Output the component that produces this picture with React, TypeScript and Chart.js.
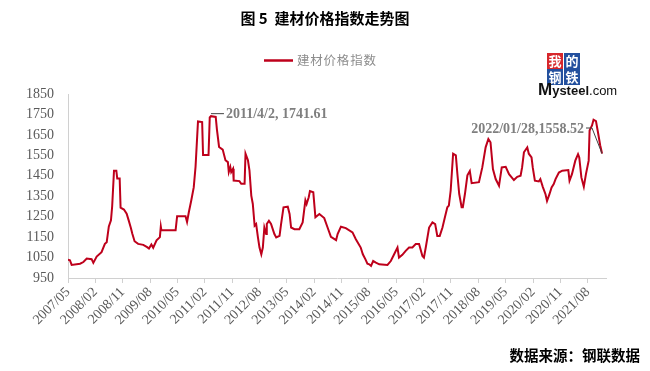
import React, { useEffect, useRef } from "react";
import { Chart, registerables } from "chart.js";

Chart.register(...registerables);

const title = "图 5  建材价格指数走势图";
const seriesName = "建材价格指数";
const sourceText = "数据来源：钢联数据";

const tickLabels = [
  "2007/05", "2008/02", "2008/11", "2009/08", "2010/05", "2011/02", "2011/11",
  "2012/08", "2013/05", "2014/02", "2014/11", "2015/08", "2016/05", "2017/02",
  "2017/11", "2018/08", "2019/05", "2020/02", "2020/11", "2021/08",
];

const yTicks = [950, 1050, 1150, 1250, 1350, 1450, 1550, 1650, 1750, 1850];

const dates = [
  "2007/05/01", "2007/05/20", "2007/06/07", "2007/08/30", "2007/10/03", "2007/11/06", "2007/12/24",
  "2008/01/11", "2008/02/14", "2008/04/02", "2008/05/05", "2008/05/23", "2008/06/14", "2008/07/05",
  "2008/07/17", "2008/08/05", "2008/08/28", "2008/09/07", "2008/10/01", "2008/10/10", "2008/11/13",
  "2008/12/10", "2008/12/30", "2009/01/21", "2009/02/06", "2009/02/28", "2009/04/03", "2009/05/24",
  "2009/07/02", "2009/07/20", "2009/08/14", "2009/09/02", "2009/10/05", "2009/11/08", "2009/11/17",
  "2009/11/23", "2010/04/13", "2010/04/28", "2010/07/21", "2010/08/06", "2010/08/24", "2010/09/18",
  "2010/10/12", "2010/10/30", "2010/11/24", "2011/01/05", "2011/01/14", "2011/03/08", "2011/03/20",
  "2011/04/02", "2011/05/19", "2011/06/01", "2011/06/22", "2011/07/28", "2011/08/25", "2011/09/19",
  "2011/09/28", "2011/10/13", "2011/10/22", "2011/11/10", "2011/11/16", "2012/01/13", "2012/02/01",
  "2012/03/04", "2012/03/13", "2012/04/07", "2012/04/22", "2012/05/10", "2012/05/25", "2012/06/13",
  "2012/06/28", "2012/07/16", "2012/08/01", "2012/08/19", "2012/09/04", "2012/09/19", "2012/10/07",
  "2012/10/13", "2012/11/04", "2012/11/25", "2012/12/28", "2013/01/16", "2013/02/19", "2013/03/04",
  "2013/03/28", "2013/05/10", "2013/05/28", "2013/06/13", "2013/07/16", "2013/09/04", "2013/10/07",
  "2013/11/04", "2013/11/16", "2013/12/07", "2013/12/19", "2014/01/22", "2014/02/13", "2014/03/22",
  "2014/05/10", "2014/06/13", "2014/07/16", "2014/09/07", "2014/09/22", "2014/10/25", "2014/12/13",
  "2015/02/19", "2015/03/22", "2015/05/10", "2015/06/01", "2015/06/28", "2015/07/16", "2015/08/04",
  "2015/08/22", "2015/09/13", "2015/10/10", "2015/11/13", "2016/02/04", "2016/03/07", "2016/04/10",
  "2016/05/13", "2016/05/28", "2016/07/01", "2016/08/04", "2016/09/07", "2016/10/10", "2016/11/13",
  "2016/12/16", "2017/01/19", "2017/02/04", "2017/02/22", "2017/03/25", "2017/04/28", "2017/05/25",
  "2017/06/16", "2017/07/10", "2017/08/07", "2017/09/01", "2017/09/25", "2017/10/10", "2017/10/28",
  "2017/11/22", "2017/12/19", "2018/01/04", "2018/01/22", "2018/02/16", "2018/02/28", "2018/03/19",
  "2018/04/13", "2018/05/07", "2018/05/25", "2018/08/07", "2018/09/10", "2018/10/13", "2018/11/10",
  "2018/12/01", "2018/12/25", "2019/01/22", "2019/02/25", "2019/03/22", "2019/05/01", "2019/06/04",
  "2019/07/22", "2019/08/25", "2019/09/28", "2019/10/13", "2019/11/01", "2019/12/04", "2019/12/19",
  "2020/01/16", "2020/01/28", "2020/02/19", "2020/03/28", "2020/04/13", "2020/05/07", "2020/06/04",
  "2020/06/19", "2020/07/13", "2020/08/04", "2020/08/25", "2020/09/13", "2020/10/16", "2020/11/19",
  "2021/01/19", "2021/02/01", "2021/02/25", "2021/03/28", "2021/04/25", "2021/05/07", "2021/05/28",
  "2021/06/22", "2021/07/13", "2021/08/10", "2021/08/19", "2021/09/13", "2021/09/28", "2021/10/22",
  "2021/11/10", "2021/12/04", "2021/12/22",
];

const values = [
  1040, 1037, 1014, 1020, 1028, 1045, 1042,
  1024, 1055, 1076, 1117, 1125, 1202, 1232,
  1301, 1475, 1475, 1437, 1437, 1294, 1285,
  1265, 1232, 1196, 1166, 1130, 1117, 1112,
  1101, 1094, 1114, 1098, 1134, 1150, 1202,
  1183, 1183, 1252, 1252, 1224, 1273, 1330,
  1393, 1495, 1716, 1713, 1552, 1552, 1735,
  1741.61, 1738, 1676, 1591, 1578, 1526, 1517,
  1468, 1493, 1468, 1484, 1427, 1424, 1411,
  1411, 1558, 1526, 1476, 1353, 1312, 1206,
  1214, 1148, 1099, 1066, 1099, 1197, 1165,
  1214, 1230, 1214, 1165, 1148, 1156, 1214,
  1296, 1299, 1263, 1197, 1189, 1189, 1222,
  1330, 1312, 1345, 1375, 1369, 1247, 1263,
  1243, 1197, 1151, 1135, 1165, 1201, 1194,
  1173, 1140, 1099, 1066, 1040, 1020, 1017,
  1009, 1033, 1025, 1017, 1014, 1033, 1066,
  1099, 1050, 1063, 1083, 1099, 1099, 1116,
  1116, 1058, 1050, 1099, 1197, 1222, 1214,
  1156, 1156, 1197, 1247, 1296, 1304, 1378,
  1558, 1550, 1460, 1362, 1296, 1296, 1362,
  1452, 1473, 1414, 1419, 1491, 1589, 1630,
  1614, 1483, 1434, 1401, 1491, 1494, 1458,
  1429, 1445, 1450, 1491, 1565, 1589, 1558,
  1540, 1491, 1426, 1422, 1434, 1396, 1360,
  1327, 1360, 1393, 1409, 1434, 1466, 1475,
  1478, 1426, 1458, 1524, 1556, 1540, 1442,
  1396, 1458, 1524, 1671, 1696, 1724, 1717,
  1668, 1598, 1558.52,
];

const peakNote = "2011/4/2, 1741.61";
const lastNote = "2022/01/28,1558.52";

function monthIndex(s: string): number {
  const [y, m, d] = s.split("/").map(Number);
  return (y - 2007) * 12 + (m - 5) + (d - 1) / 30;
}

const LINE_COLOR = "#be001b";

export default function App() {
  const ref = useRef<HTMLCanvasElement | null>(null);

  useEffect(() => {
    if (!ref.current) return;
    const points = dates.map((d, i) => ({ x: monthIndex(d), y: values[i] }));
    const peakIdx = values.indexOf(1741.61);
    const lastIdx = values.length - 1;

    const decor = {
      id: "decor",
      afterDraw(chart: any) {
        const ctx = chart.ctx as CanvasRenderingContext2D;
        const xs = chart.scales.x;
        const ys = chart.scales.y;
        ctx.save();
        // title
        ctx.fillStyle = "#000";
        ctx.font = "bold 15px 'Noto Sans CJK SC'";
        ctx.textAlign = "center";
        ctx.textBaseline = "middle";
        ctx.fillText(title, 325, 18);
        // legend
        ctx.strokeStyle = LINE_COLOR;
        ctx.lineWidth = 2.5;
        ctx.beginPath();
        ctx.moveTo(264, 60.5);
        ctx.lineTo(293, 60.5);
        ctx.stroke();
        ctx.fillStyle = "#8c8c8c";
        ctx.font = "12.5px 'Noto Sans CJK SC'";
        ctx.textAlign = "left";
        ctx.fillText(seriesName.split("").join("\u200A"), 297, 60);
        // logo
        const sq = [
          { t: "我", x: 547, y: 53, c: "#d7262b" },
          { t: "的", x: 564, y: 53, c: "#23509e" },
          { t: "钢", x: 547, y: 69, c: "#23509e" },
          { t: "铁", x: 564, y: 69, c: "#23509e" },
        ];
        ctx.font = "bold 13px 'Noto Sans CJK SC'";
        ctx.textAlign = "center";
        for (const s of sq) {
          ctx.fillStyle = s.c;
          ctx.fillRect(s.x, s.y, 16, 16);
          ctx.fillStyle = "#fff";
          ctx.fillText(s.t, s.x + 8, s.y + 8.5);
        }
        ctx.textAlign = "left";
        ctx.textBaseline = "alphabetic";
        ctx.fillStyle = "#111";
        ctx.font = "bold 17px 'Liberation Sans'";
        ctx.fillText("M", 538, 95);
        const mw = ctx.measureText("M").width;
        ctx.font = "bold 13px 'Liberation Sans'";
        ctx.fillText("ysteel", 538 + mw, 95);
        const yw = ctx.measureText("ysteel").width;
        ctx.font = "13px 'Liberation Sans'";
        ctx.fillText(".com", 538 + mw + yw, 95);
        // annotations
        ctx.textBaseline = "middle";
        const px = xs.getPixelForValue(points[peakIdx].x);
        const py = ys.getPixelForValue(values[peakIdx]);
        ctx.strokeStyle = "#404040";
        ctx.lineWidth = 1;
        ctx.beginPath();
        ctx.moveTo(px, py - 2.5);
        ctx.lineTo(px + 13, py - 2.5);
        ctx.stroke();
        ctx.fillStyle = "#7f7f7f";
        ctx.font = "bold 14px 'Liberation Serif'";
        ctx.textAlign = "left";
        ctx.fillText(peakNote, px + 15, py - 1.5);

        const lx = xs.getPixelForValue(points[lastIdx].x);
        const ly = ys.getPixelForValue(values[lastIdx]);
        ctx.textAlign = "right";
        ctx.fillText(lastNote, 584, 129);
        ctx.beginPath();
        ctx.moveTo(586, 128);
        ctx.lineTo(592, 128);
        ctx.lineTo(lx, ly);
        ctx.stroke();
        // source
        ctx.fillStyle = "#000";
        ctx.font = "bold 14.5px 'Noto Sans CJK SC'";
        ctx.textAlign = "right";
        ctx.fillText(sourceText, 640, 355);
        ctx.restore();
      },
    };

    const chart = new Chart(ref.current, {
      type: "line",
      data: {
        datasets: [
          {
            label: seriesName,
            data: points,
            borderColor: LINE_COLOR,
            borderWidth: 2,
            pointRadius: 0,
            tension: 0,
            fill: false,
          },
        ],
      },
      options: {
        animation: false,
        responsive: false,
        maintainAspectRatio: false,
        layout: { padding: { top: 94, right: 44, left: 0, bottom: 0 } },
        plugins: { legend: { display: false }, tooltip: { enabled: false }, title: { display: false } },
        scales: {
          x: {
            type: "linear",
            min: 0,
            max: 177,
            afterBuildTicks: (scale: any) => {
              scale.ticks = tickLabels.map((_, i) => ({ value: i * 9 }));
            },
            afterFit: (scale: any) => {
              scale.height = 93;
              scale.paddingLeft = 0;
              scale.paddingRight = 0;
            },
            grid: { display: true, drawOnChartArea: false, drawTicks: true, tickLength: 5, color: "#d0d0d0" },
            border: { display: true, color: "#d0d0d0", width: 1 },
            ticks: {
              autoSkip: false,
              maxRotation: 45,
              minRotation: 45,
              padding: 1,
              color: "#595959",
              font: { family: "'Liberation Serif'", size: 14 },
              callback: (v: any) => tickLabels[Math.round(Number(v) / 9)] ?? "",
            },
          },
          y: {
            min: 950,
            max: 1850,
            afterBuildTicks: (scale: any) => {
              scale.ticks = yTicks.map((v) => ({ value: v }));
            },
            afterFit: (scale: any) => {
              scale.width = 68;
            },
            grid: { display: false, drawTicks: false },
            border: { display: true, color: "#d0d0d0", width: 1 },
            ticks: {
              padding: 14,
              color: "#595959",
              font: { family: "'Liberation Serif'", size: 14 },
              callback: (v: any) => String(v),
            },
          },
        },
      },
      plugins: [decor],
    } as any);
    return () => chart.destroy();
  }, []);

  return (
    <div style={{ position: "fixed", left: 0, top: 0, width: 650, height: 371, background: "#fff" }}>
      <canvas ref={ref} width={650} height={371} style={{ width: 650, height: 371 }} />
    </div>
  );
}
